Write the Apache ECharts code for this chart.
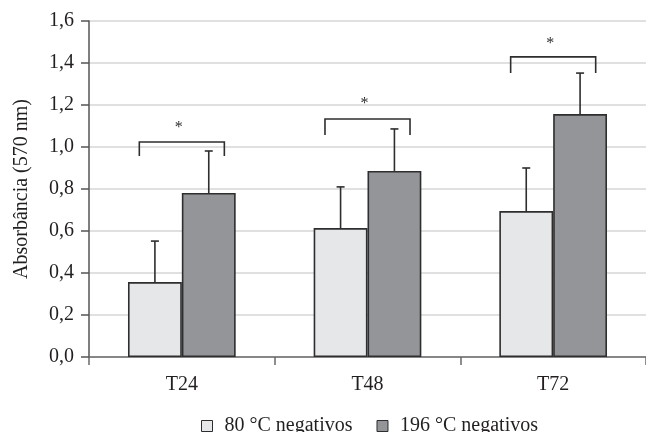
<!DOCTYPE html>
<html>
<head>
<meta charset="utf-8">
<script src="https://cdn.jsdelivr.net/npm/echarts@6/dist/echarts.min.js"></script>
<style>
  html, body { margin: 0; padding: 0; background: #fff; }
  #main { width: 646px; height: 432px; }
</style>
</head>
<body>
<div id="main"></div>
<script>
  // categorias e valores
  var categories = ['T24', 'T48', 'T72']
  var seriesNames = ['80 °C negativos', '196 °C negativos']
  var neg80 = [0.357, 0.614, 0.695]
  var neg80Err = [0.195, 0.196, 0.205]
  var neg196 = [0.781, 0.886, 1.157]
  var neg196Err = [0.200, 0.200, 0.195]
  // colchetes de significância (*)
  var bracketTop = [1.024, 1.133, 1.429]
  var bracketLeg = [0.957, 1.057, 1.352]
  var starY = [1.105, 1.219, 1.506]

  var FONT = '"Liberation Serif", "DejaVu Serif", serif'
  var BAR_FRAC = 0.29
  var INK = '#2e2e2e'
  var TXT = '#231f20'

  function errData(means, errs) {
    return means.map(function (m, i) { return [i, m, m + errs[i]] })
  }

  function errRender(side) {
    return function (params, api) {
      var band = api.size([1, 0])[0]
      var off = side * band * BAR_FRAC / 2
      var low = api.coord([api.value(0), api.value(1)])
      var high = api.coord([api.value(0), api.value(2)])
      var x = low[0] + off
      var style = { stroke: INK, lineWidth: 1.6 }
      return {
        type: 'group',
        children: [
          { type: 'line', shape: { x1: x, y1: low[1], x2: x, y2: high[1] }, style: style },
          { type: 'line', shape: { x1: x - 4, y1: high[1], x2: x + 4, y2: high[1] }, style: style }
        ]
      }
    }
  }

  var bracketData = categories.map(function (c, i) { return [i, bracketTop[i], bracketLeg[i], starY[i]] })

  var chart = echarts.init(document.getElementById('main'))
  chart.setOption({
    animation: false,
    textStyle: { fontFamily: FONT },
    grid: { left: 89, right: 0, top: 21, bottom: 75 },
    legend: {
      data: seriesNames,
      left: 196,
      top: 411,
      itemWidth: 11,
      itemHeight: 11,
      itemGap: 24,
      icon: 'rect',
      itemStyle: { borderColor: INK, borderWidth: 1 },
      textStyle: { fontFamily: FONT, fontSize: 20, color: TXT, padding: [0, 0, 0, 7] }
    },
    xAxis: {
      type: 'category',
      data: categories,
      axisLine: { lineStyle: { color: '#6a6a6a', width: 1.5 } },
      axisTick: { show: true, length: 8, lineStyle: { color: '#6a6a6a', width: 1.5 } },
      axisLabel: { fontFamily: FONT, fontSize: 20, color: TXT, margin: 18 }
    },
    yAxis: {
      type: 'value',
      min: 0,
      max: 1.6,
      interval: 0.2,
      name: 'Absorbância (570 nm)',
      nameLocation: 'middle',
      nameGap: 57,
      nameTextStyle: { fontFamily: FONT, fontSize: 20, color: TXT },
      axisLine: { show: true, lineStyle: { color: '#555', width: 1.5 } },
      axisTick: { show: true, length: 8, lineStyle: { color: '#555', width: 1.5 } },
      axisLabel: {
        fontFamily: FONT, fontSize: 20, color: TXT, margin: 15,
        formatter: function (v) { return v.toFixed(1).replace('.', ',') }
      },
      splitLine: { lineStyle: { color: '#d6d6d6', width: 1.5 } }
    },
    series: [
      {
        name: seriesNames[0],
        type: 'bar',
        data: neg80,
        barWidth: (BAR_FRAC * 100) + '%',
        barGap: '0%',
        itemStyle: { color: '#e6e7e9', borderColor: INK, borderWidth: 1.6 }
      },
      {
        name: seriesNames[1],
        type: 'bar',
        data: neg196,
        barWidth: (BAR_FRAC * 100) + '%',
        barGap: '0%',
        itemStyle: { color: '#939598', borderColor: INK, borderWidth: 1.6 }
      },
      {
        type: 'custom',
        z: 5,
        data: errData(neg80, neg80Err),
        encode: { x: 0, y: [1, 2] },
        renderItem: errRender(-1)
      },
      {
        type: 'custom',
        z: 5,
        data: errData(neg196, neg196Err),
        encode: { x: 0, y: [1, 2] },
        renderItem: errRender(1)
      },
      {
        type: 'custom',
        z: 5,
        data: bracketData,
        encode: { x: 0, y: [1, 2, 3] },
        renderItem: function (params, api) {
          var band = api.size([1, 0])[0]
          var half = band * 0.229
          var top = api.coord([api.value(0), api.value(1)])
          var leg = api.coord([api.value(0), api.value(2)])
          var star = api.coord([api.value(0), api.value(3)])
          var cx = top[0]
          return {
            type: 'group',
            children: [
              {
                type: 'polyline',
                shape: { points: [[cx - half, leg[1]], [cx - half, top[1]], [cx + half, top[1]], [cx + half, leg[1]]] },
                style: { stroke: INK, lineWidth: 1.6, fill: null }
              },
              {
                type: 'text',
                x: cx - 3, y: star[1] + 3,
                style: { text: '*', fontFamily: FONT, fontSize: 16, fill: INK, align: 'center', verticalAlign: 'middle' }
              }
            ]
          }
        }
      }
    ]
  })
</script>
</body>
</html>
